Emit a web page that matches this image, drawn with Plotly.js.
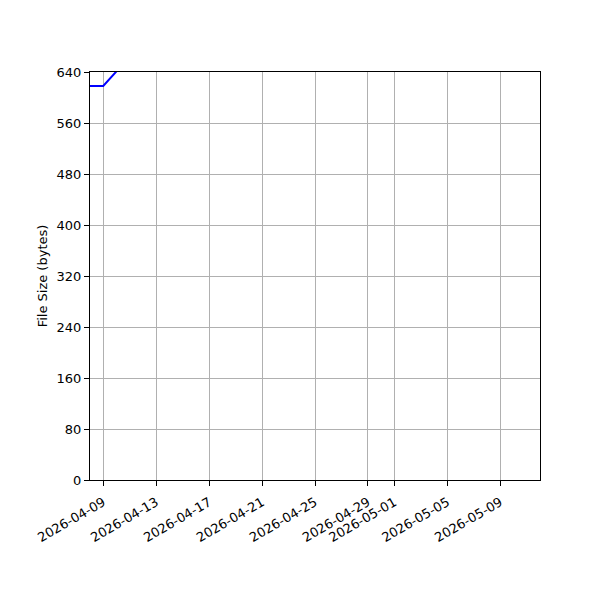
<!DOCTYPE html>
<html>
<head>
<meta charset="utf-8">
<script src="https://cdn.plot.ly/plotly-3.0.1.min.js"></script>
<style>
  html, body { margin: 0; padding: 0; background: #fff; }
  #chart { width: 600px; height: 600px; }
</style>
</head>
<body>
<div id="chart"></div>
<script>
// Values (line climbs out of the top of the axes)
const dates = ['2026-04-07', '2026-04-08', '2026-04-09', '2026-04-10', '2026-04-11'];
const fileSizes = [618, 618, 618, 641, 664];

// Tick labels as shown on the x axis
const xTicks = ['2026-04-09', '2026-04-13', '2026-04-17', '2026-04-21', '2026-04-25',
                '2026-04-29', '2026-05-01', '2026-05-05', '2026-05-09'];
const yTicks = [0, 80, 160, 240, 320, 400, 480, 560, 640];

const font = { family: 'DejaVu Sans, sans-serif', size: 13, color: '#000' };

const trace = {
    x: dates,
    y: fileSizes,
    type: 'scatter',
    mode: 'lines',
    line: { color: '#0000ff', width: 2 },
    cliponaxis: true,
    hoverinfo: 'skip'
};

const layout = {
    width: 600,
    height: 600,
    margin: { l: 90, r: 60, t: 72, b: 120 },
    paper_bgcolor: '#fff',
    plot_bgcolor: '#fff',
    showlegend: false,
    font: font,
    xaxis: {
        type: 'date',
        range: ['2026-04-08', '2026-05-12'],
        tickmode: 'array',
        tickvals: xTicks,
        ticktext: xTicks,
        tickangle: -30,
        ticks: 'outside',
        ticklen: 5,
        tickwidth: 1,
        tickcolor: '#000',
        ticklabelstandoff: 4,
        showgrid: true,
        gridcolor: '#b0b0b0',
        gridwidth: 1,
        showline: true,
        linecolor: '#000',
        linewidth: 1,
        mirror: true,
        zeroline: false,
        tickfont: font
    },
    yaxis: {
        range: [0, 640],
        tickmode: 'array',
        tickvals: yTicks,
        ticks: 'outside',
        ticklen: 5,
        tickwidth: 1,
        tickcolor: '#000',
        showgrid: true,
        gridcolor: '#b0b0b0',
        gridwidth: 1,
        showline: true,
        linecolor: '#000',
        linewidth: 1,
        mirror: true,
        zeroline: false,
        tickfont: font,
        title: { text: 'File Size (bytes)', font: font, standoff: 6 }
    }
};

Plotly.newPlot('chart', [trace], layout, { staticPlot: true, displayModeBar: false });
</script>
</body>
</html>
